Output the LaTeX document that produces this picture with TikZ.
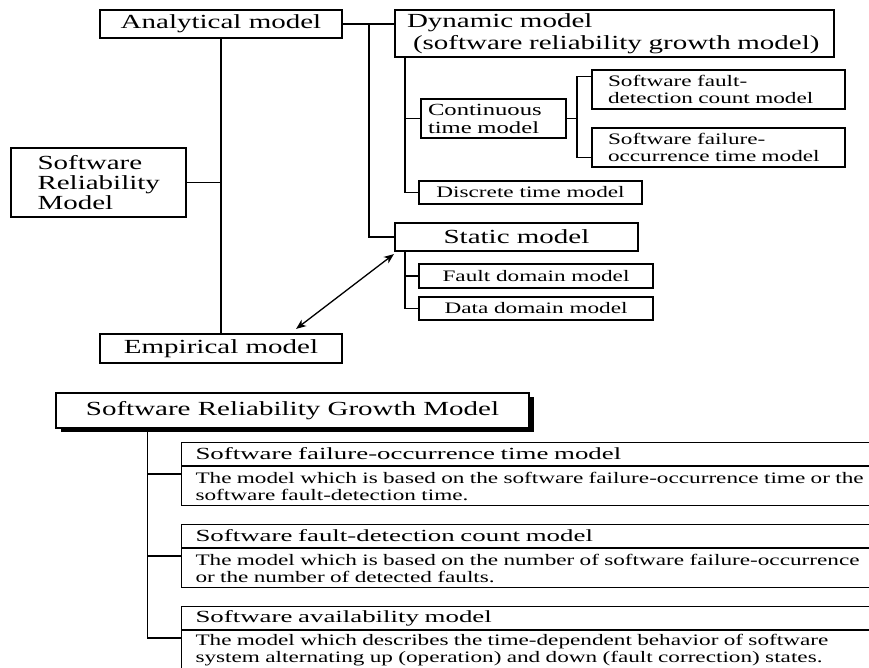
\documentclass[tikz,border=0pt]{standalone}
\usepackage{fontspec}
\setmainfont{Liberation Serif}[FakeStretch=1.45]
\newfontfamily\ttlfont{Liberation Serif}[FakeStretch=1.58]
\usetikzlibrary{positioning, arrows.meta, shadows}

\tikzset{
  mainbox/.style={draw, line width=2.2pt, font=\fontsize{20}{22}\selectfont, inner sep=0pt, minimum width=242, minimum height=28},
  subbox/.style={draw, line width=1.5pt, font=\fontsize{16}{17}\selectfont, inner sep=0pt, align=left},
  link/.style={line width=1.3pt},
  ttlbox/.style={draw, line width=1.1pt, anchor=north west, font=\ttlfont\fontsize{17}{17}\selectfont, minimum height=23, text width=720, inner xsep=14pt, inner ysep=0pt, align=left},
  descbox/.style={ttlbox, font=\fontsize{16}{17}\selectfont, minimum height=39},
}

\begin{document}
\begin{tikzpicture}[x=1pt, y=-1pt, >={Stealth[length=10pt, width=8pt, inset=3pt]}]
\clip (0,0) rectangle (869,668);

% classification tree
\node[mainbox] (ana) at (221,24) {Analytical model};
\node[mainbox, minimum width=439, minimum height=47, text width=415, inner xsep=12pt, align=left] (dyn) at (614.5,33.5) {Dynamic model\\\hspace{0.3em}(software reliability growth model)};
\node[mainbox, minimum width=243] (sta) at (516.5,237) {Static model};
\node[mainbox, font=\fontsize{20}{20}\selectfont, minimum width=175, minimum height=69, text width=122, inner xsep=26.5pt, align=left] (srm) at (98.5,182.5) {Software\\Reliability\\Model};
\node[mainbox, minimum height=29] (emp) at (221,348.5) {Empirical model};

\node[subbox, font=\fontsize{17}{18}\selectfont, minimum width=145, minimum height=39, text width=131, inner xsep=7pt] (cont) at (493.5,118.5) {Continuous\\time model};
\node[subbox, minimum width=253, minimum height=39, text width=221, inner xsep=16pt] (fdc) at (718.5,89.5) {Software fault-\\detection count model};
\node[subbox, minimum width=253, minimum height=39, text width=221, inner xsep=16pt] (foc) at (718.5,147.5) {Software failure-\\occurrence time model};
\node[subbox, minimum width=223, minimum height=23] (dis) at (530.5,192.5) {Discrete time model};
\node[subbox, minimum width=234, minimum height=24] (fdm) at (536,276) {Fault domain model};
\node[subbox, minimum width=234, minimum height=23] (ddm) at (536,308.5) {Data domain model};

\draw[link] (ana.east) -- (ana.east -| dyn.west);
\coordinate (atrunk) at (369,24);
\draw[link] (atrunk) |- (sta.west);
\draw[link] (ana.south) -- (emp.north);
\draw[link] (srm.east) -- (srm.east -| ana.south);
\draw[link, <->] ([xshift=-47pt, yshift=4pt]emp.north east) -- ([yshift=-2pt]sta.south west);

\coordinate (dtrunk) at ([xshift=11pt]dyn.south west);
\draw[link] (dtrunk) |- (dis.west);
\draw[link] (cont.west) -- (cont.west -| dtrunk);

\coordinate (cbrk) at (577,118.5);
\coordinate (fdcin) at ([yshift=-7pt]fdc.north west);
\coordinate (focin) at ([yshift=10pt]foc.south west);
\draw[link] (cont.east) -- (cbrk);
\draw[link] (fdcin) -| (focin -| cbrk) -- (focin);

\coordinate (strunk) at ([xshift=11pt]sta.south west);
\draw[link] (strunk) |- (ddm.west);
\draw[link] (fdm.west) -- (fdm.west -| strunk);

% growth models
\node[mainbox, line width=1.5pt, minimum width=473, minimum height=35, fill=white, drop shadow={shadow xshift=5pt, shadow yshift=-4pt, fill=black, opacity=1}] (srgm) at (292.5,410.5) {Software Reliability Growth Model};

\node[ttlbox] (t1) at (181,442) {Software failure-occurrence time model};
\node[descbox, below=0pt of t1] (d1) {The model which is based on the software failure-occurrence time or the\\software fault-detection time.};
\node[ttlbox] (t2) at (181,524) {Software fault-detection count model};
\node[descbox, below=0pt of t2] (d2) {The model which is based on the number of software failure-occurrence\\or the number of detected faults.};
\node[ttlbox] (t3) at (181,606) {Software availability model};
\node[descbox, below=0pt of t3] (d3) {The model which describes the time-dependent behavior of software\\system alternating up (operation) and down (fault correction) states.};

\coordinate (gtrunk) at ([xshift=92pt]srgm.south west);
\foreach \i in {1,2,3}
  \coordinate (b\i) at ([yshift=-8pt]d\i.north west);
\draw[link] (gtrunk) |- (b3);
\draw[link] (b1) -- (b1 -| gtrunk);
\draw[link] (b2) -- (b2 -| gtrunk);
\end{tikzpicture}
\end{document}
